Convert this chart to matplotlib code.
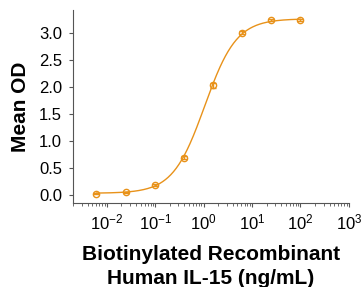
import numpy as np
import matplotlib
matplotlib.use("Agg")
import matplotlib.pyplot as plt
from matplotlib.ticker import LogLocator, NullFormatter

plt.rcParams['font.family'] = ['Liberation Sans', 'DejaVu Sans']
plt.rcParams['mathtext.fontset'] = 'custom'
plt.rcParams['mathtext.rm'] = 'Liberation Sans'
plt.rcParams['mathtext.it'] = 'Liberation Sans'
plt.rcParams['mathtext.bf'] = 'Liberation Sans:bold'

# Data (4-fold dilutions)
conc = [0.0061, 0.0244, 0.0977, 0.391, 1.5625, 6.25, 25.0, 100.0]
mean_od = [0.02, 0.05, 0.18, 0.69, 2.03, 3.00, 3.23, 3.23]
err_od = [0.01, 0.01, 0.02, 0.03, 0.05, 0.03, 0.02, 0.02]

# 4PL fit parameters (estimated)
bottom, top, ec50, hill = 0.03, 3.26, 1.05, 1.32

color = '#E8921A'

fig = plt.figure(figsize=(3.62, 2.87), dpi=100)
ax = fig.add_axes([0.2017, 0.2927, 0.762, 0.672])

xs = np.logspace(np.log10(conc[0]), np.log10(conc[-1]), 300)
ys = bottom + (top - bottom) / (1 + (ec50 / xs) ** hill)
ax.plot(xs, ys, color=color, lw=1.0)
ax.errorbar(conc, mean_od, yerr=err_od, fmt='o', mfc='none', mec=color,
            ms=4.5, mew=1.0, ecolor=color, elinewidth=1.0, capsize=2.5, capthick=1.0)

ax.set_xscale('log')
ax.set_xlim(0.002, 1000)
ax.set_ylim(-0.15, 3.42)
ax.set_yticks([0.0, 0.5, 1.0, 1.5, 2.0, 2.5, 3.0])
ax.set_yticklabels(['0.0', '0.5', '1.0', '1.5', '2.0', '2.5', '3.0'])
ax.xaxis.set_major_locator(LogLocator(base=10, numticks=10))
ax.xaxis.set_minor_locator(LogLocator(base=10, subs=np.arange(2, 10), numticks=20))
ax.xaxis.set_minor_formatter(NullFormatter())

for s in ['top', 'right']:
    ax.spines[s].set_visible(False)
for s in ['left', 'bottom']:
    ax.spines[s].set_color('#555555')
    ax.spines[s].set_linewidth(0.8)

ax.tick_params(axis='both', which='major', labelsize=12, length=3, width=0.8,
               color='#555555', pad=5)
ax.tick_params(axis='x', which='minor', length=2, width=0.6, color='#555555')
ax.tick_params(axis='x', which='major', pad=4)

ax.set_ylabel('Mean OD', fontsize=15, fontweight='bold', labelpad=6)
ax.set_xlabel('Biotinylated Recombinant\nHuman IL-15 (ng/mL)', fontsize=15,
              fontweight='bold', labelpad=9, linespacing=1.3)

fig.savefig('out.png', dpi=100)
